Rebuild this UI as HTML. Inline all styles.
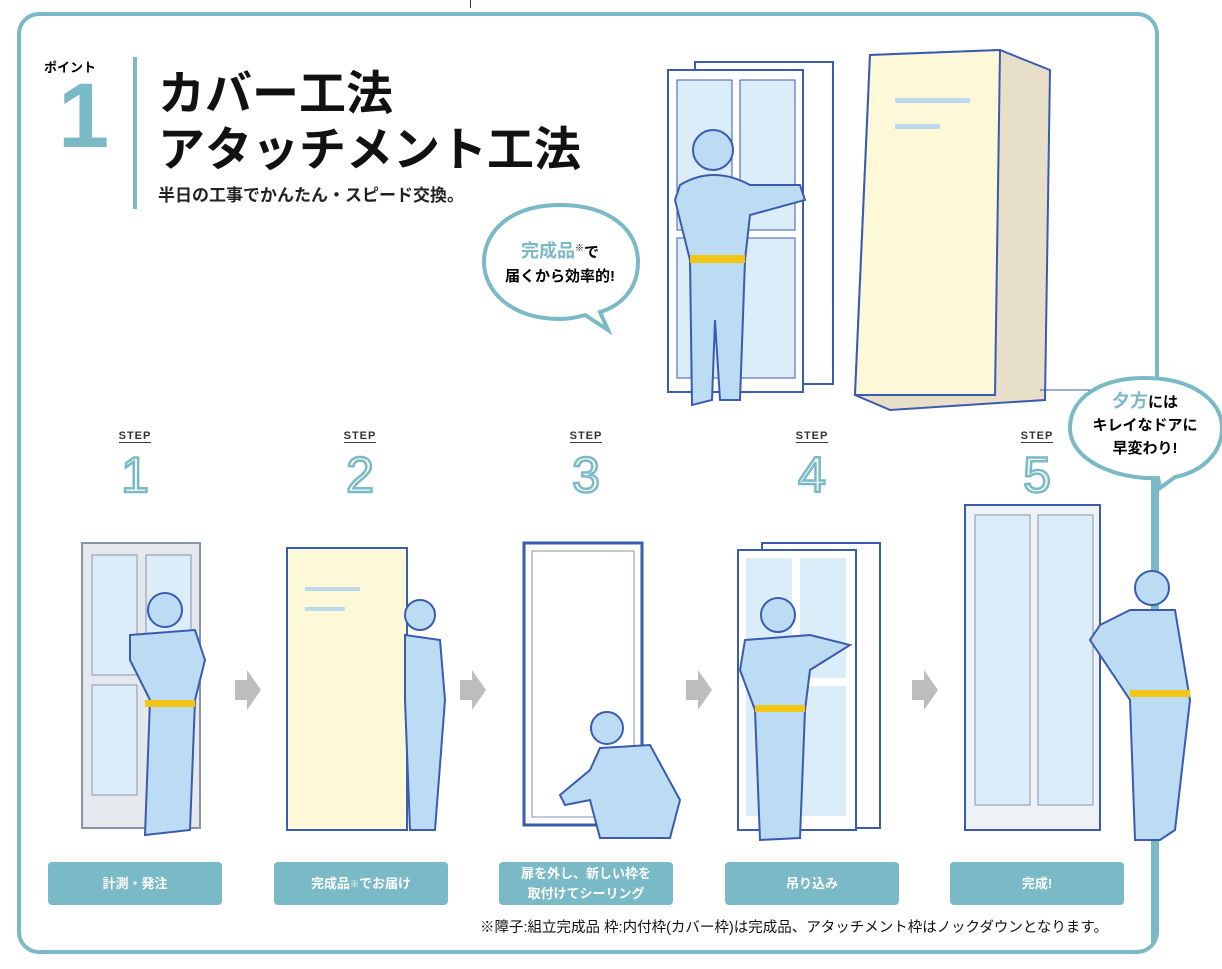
<!DOCTYPE html>
<html><head><meta charset="utf-8"><style>
body{margin:0;width:1222px;height:969px;background:#fff;position:relative;overflow:hidden;font-family:"Liberation Sans","Noto Sans CJK JP",sans-serif}
.a{position:absolute}
.btn{position:absolute;top:862px;width:174px;height:43px;background:#7ab9c6;border-radius:4px;color:#fff;font-size:13px;font-weight:bold;display:flex;align-items:center;justify-content:center;text-align:center;line-height:20px}
.step{position:absolute;top:426px;width:80px;text-align:center}
.step .s{font-size:11px;font-weight:bold;color:#333;letter-spacing:1px;border-bottom:1.5px solid #333;display:inline-block;line-height:12px}
.step .n{font-size:50px;font-weight:normal;color:#fff;-webkit-text-stroke:2.5px #7ab9c6;line-height:58px;margin-top:2px}
</style></head><body>
<div class="a" style="left:17px;top:12px;width:1134px;height:934px;border:4px solid #7ab9c6;border-radius:22px"></div>
<div class="a" style="left:470px;top:0;width:1px;height:8px;background:#333"></div>
<div class="a" style="left:44px;top:57px;font-size:13px;font-weight:bold">ポイント</div>
<div class="a" style="left:58px;top:70px;font-size:92px;font-weight:bold;color:#7ab9c6;line-height:92px">1</div>
<div class="a" style="left:133px;top:57px;width:4px;height:152px;background:#7ab9c6"></div>
<div class="a" style="left:158px;top:66px;font-size:47px;font-weight:bold;line-height:56px;color:#111">カバー工法<br>アタッチメント工法</div>
<div class="a" style="left:158px;top:181px;font-size:17px;font-weight:bold;color:#222">半日の工事でかんたん・スピード交換。</div>

<svg class="a" style="left:0;top:0" width="1222" height="969">
<path d="M560 205 C610 205 638 230 638 262 C638 290 620 306 600 312 L608 330 L585 315 C575 318 565 319 560 319 C512 319 484 292 484 262 C484 230 512 205 560 205Z" fill="#fff" stroke="#7ab9c6" stroke-width="4"/>
<rect x="695" y="62" width="138" height="322" fill="#fff" stroke="#3a5bb0" stroke-width="2"/>
<rect x="668" y="70" width="135" height="322" fill="#fff" stroke="#3a5bb0" stroke-width="2"/>
<rect x="677" y="80" width="55" height="150" fill="#dcedfa" stroke="#3a5bb0"/>
<rect x="740" y="80" width="55" height="150" fill="#dcedfa" stroke="#3a5bb0"/>
<rect x="677" y="238" width="55" height="140" fill="#dcedfa" stroke="#3a5bb0"/>
<rect x="740" y="238" width="55" height="140" fill="#dcedfa" stroke="#3a5bb0"/>
<circle cx="713" cy="150" r="20" fill="#bcdcf3" stroke="#3a5bb0" stroke-width="2"/>
<path d="M680 185 Q713 165 750 185 L800 185 L805 200 L750 215 L745 260 L740 400 L720 400 L715 320 L712 400 L692 405 L690 260 L675 200Z" fill="#bcdcf3" stroke="#3a5bb0" stroke-width="2"/>
<rect x="690" y="255" width="55" height="8" fill="#f3c515"/>
<path d="M870 55 L1000 50 L1050 70 L1045 400 L890 410 L855 395Z" fill="#e8dfc9" stroke="#3a5bb0" stroke-width="2"/>
<path d="M870 55 L1000 50 L995 395 L855 395Z" fill="#fdf8d8" stroke="#3a5bb0" stroke-width="2"/>
<rect x="895" y="98" width="75" height="5" fill="#bcd9ee"/><rect x="895" y="124" width="45" height="5" fill="#bcd9ee"/>
<line x1="1040" y1="390" x2="1095" y2="390" stroke="#3a5bb0"/>
<path d="M1145 378 C1192 378 1222 400 1222 428 C1222 455 1200 472 1175 477 L1160 488 L1158 478 C1120 480 1070 462 1070 428 C1070 398 1100 378 1145 378Z" fill="#fff" stroke="#7ab9c6" stroke-width="4"/>
<rect x="1151" y="478" width="4" height="466" fill="#7ab9c6"/>
<g fill="#bdbdbd"><path d="M235 680h12v-10l14 20-14 20v-10h-12z"/><path d="M460 680h12v-10l14 20-14 20v-10h-12z"/><path d="M686 680h12v-10l14 20-14 20v-10h-12z"/><path d="M912 680h12v-10l14 20-14 20v-10h-12z"/></g>
<rect x="82" y="543" width="118" height="285" fill="#e5e9ee" stroke="#8a93a8" stroke-width="2"/>
<rect x="92" y="555" width="45" height="120" fill="#dcedfa" stroke="#8a93a8"/><rect x="146" y="555" width="45" height="120" fill="#dcedfa" stroke="#8a93a8"/>
<rect x="92" y="685" width="45" height="110" fill="#dcedfa" stroke="#8a93a8"/>
<circle cx="165" cy="610" r="17" fill="#bcdcf3" stroke="#3a5bb0" stroke-width="2"/>
<path d="M130 635 L195 630 L205 660 L195 700 L190 830 L145 835 L150 700 L130 660Z" fill="#bcdcf3" stroke="#3a5bb0" stroke-width="2"/>
<rect x="145" y="700" width="50" height="7" fill="#f3c515"/>
<rect x="287" y="548" width="120" height="282" fill="#fdf8d8" stroke="#3a5bb0" stroke-width="2"/>
<rect x="305" y="587" width="55" height="4" fill="#bcd9ee"/><rect x="305" y="607" width="40" height="4" fill="#bcd9ee"/>
<circle cx="420" cy="615" r="15" fill="#bcdcf3" stroke="#3a5bb0" stroke-width="2"/>
<path d="M405 635 L440 640 L445 700 L435 830 L410 830 L405 700Z" fill="#bcdcf3" stroke="#3a5bb0" stroke-width="2"/>
<rect x="524" y="543" width="118" height="282" fill="#fff" stroke="#3a5bb0" stroke-width="3"/>
<rect x="532" y="551" width="102" height="266" fill="#fff" stroke="#8a93a8"/>
<circle cx="607" cy="728" r="16" fill="#bcdcf3" stroke="#3a5bb0" stroke-width="2"/>
<path d="M600 748 L650 745 L680 800 L670 838 L600 838 L590 800 L565 805 L560 795 L590 770Z" fill="#bcdcf3" stroke="#3a5bb0" stroke-width="2"/>
<rect x="762" y="543" width="118" height="285" fill="#fff" stroke="#3a5bb0" stroke-width="2"/>
<rect x="738" y="550" width="118" height="280" fill="#fff" stroke="#3a5bb0" stroke-width="2"/>
<rect x="746" y="558" width="46" height="120" fill="#dcedfa"/><rect x="800" y="558" width="46" height="120" fill="#dcedfa"/>
<rect x="746" y="686" width="46" height="130" fill="#dcedfa"/><rect x="800" y="686" width="46" height="130" fill="#dcedfa"/>
<circle cx="778" cy="615" r="17" fill="#bcdcf3" stroke="#3a5bb0" stroke-width="2"/>
<path d="M745 640 L810 635 L850 645 L810 670 L805 710 L800 838 L760 840 L755 710 L740 670Z" fill="#bcdcf3" stroke="#3a5bb0" stroke-width="2"/>
<rect x="755" y="705" width="50" height="7" fill="#f3c515"/>
<rect x="965" y="505" width="135" height="325" fill="#eef1f5" stroke="#3a5bb0" stroke-width="2"/>
<rect x="975" y="515" width="55" height="290" fill="#dcedfa" stroke="#8a93a8"/><rect x="1038" y="515" width="55" height="290" fill="#dcedfa" stroke="#8a93a8"/>
<circle cx="1152" cy="588" r="17" fill="#bcdcf3" stroke="#3a5bb0" stroke-width="2"/>
<path d="M1130 610 L1175 610 L1190 700 L1175 830 L1160 840 L1135 840 L1130 700 L1090 640 L1100 625Z" fill="#bcdcf3" stroke="#3a5bb0" stroke-width="2"/>
<rect x="1130" y="690" width="60" height="7" fill="#f3c515"/>
</svg>

<div class="a" style="left:495px;top:236px;width:130px;text-align:center;font-size:15px;font-weight:bold;line-height:24px"><span style="color:#7ab9c6;font-size:18px">完成品</span><sup style="font-size:9px">※</sup>で<br>届くから効率的!</div>
<div class="a" style="left:1075px;top:390px;width:140px;text-align:center;font-size:15px;font-weight:bold;line-height:23px"><span style="color:#7ab9c6;font-size:18px">夕方</span>には<br>キレイなドアに<br>早変わり!</div>

<div class="step" style="left:95px"><span class="s">STEP</span><div class="n">1</div></div>
<div class="step" style="left:320px"><span class="s">STEP</span><div class="n">2</div></div>
<div class="step" style="left:546px"><span class="s">STEP</span><div class="n">3</div></div>
<div class="step" style="left:772px"><span class="s">STEP</span><div class="n">4</div></div>
<div class="step" style="left:997px"><span class="s">STEP</span><div class="n">5</div></div>

<div class="btn" style="left:48px">計測・発注</div>
<div class="btn" style="left:274px">完成品<sup style="font-size:9px">※</sup>でお届け</div>
<div class="btn" style="left:499px">扉を外し、新しい枠を<br>取付けてシーリング</div>
<div class="btn" style="left:725px">吊り込み</div>
<div class="btn" style="left:950px">完成!</div>
<div class="a" style="left:480px;top:916px;font-size:14.5px;color:#111;white-space:nowrap">※障子:組立完成品 枠:内付枠(カバー枠)は完成品、アタッチメント枠はノックダウンとなります。</div>
</body></html>
